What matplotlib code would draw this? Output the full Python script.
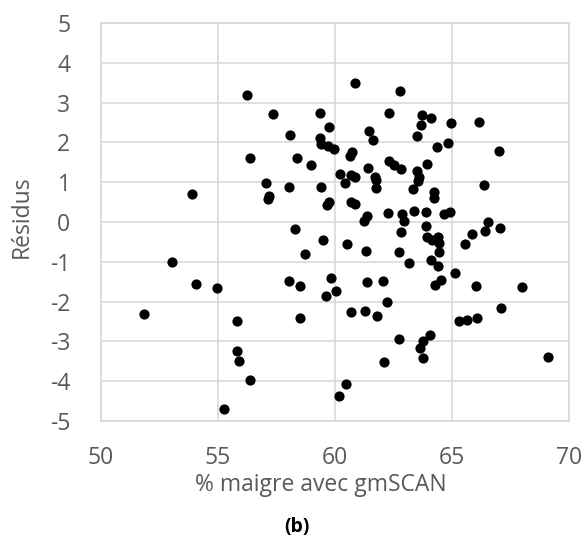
import numpy as np
import matplotlib
matplotlib.use("Agg")
import matplotlib.pyplot as plt

plt.rcParams['font.family'] = ['Open Sans', 'DejaVu Sans']
plt.rcParams['axes.unicode_minus'] = False

# % maigre avec gmSCAN (x) et résidus (y)
x_vals = [51.83, 53.05, 53.90, 54.04, 54.96, 55.25, 55.80, 55.80, 55.90, 56.22,
          56.38, 56.38, 57.05, 57.19, 57.12, 57.35, 58.08, 58.05, 58.38, 58.28,
          58.04, 58.49, 58.50, 58.71, 58.97, 59.34, 59.73, 59.38, 59.40, 59.68,
          59.97, 59.42, 59.64, 59.75, 59.49, 59.81, 60.05, 59.62, 60.20, 60.41,
          60.68, 60.85, 60.64, 60.72, 60.70, 60.84, 60.53, 60.69, 60.49, 60.19,
          60.86, 61.45, 61.63, 61.42, 61.71, 61.75, 61.75, 61.38, 61.25, 61.33,
          61.36, 61.28, 61.80, 62.31, 62.76, 62.30, 62.50, 62.82, 62.28, 62.85,
          62.96, 62.80, 62.73, 62.07, 62.22, 62.73, 62.11, 63.18, 63.36, 63.49,
          63.57, 63.54, 63.33, 63.52, 63.66, 63.71, 64.09, 63.94, 63.88, 63.88,
          63.93, 64.15, 64.41, 64.44, 64.46, 64.10, 64.39, 64.28, 64.54, 64.08,
          63.78, 63.64, 63.78, 64.23, 64.22, 64.64, 64.92, 64.38, 64.84, 64.94,
          65.12, 65.30, 65.66, 66.06, 65.56, 65.87, 66.43, 66.53, 67.07, 66.38,
          66.14, 67.00, 66.02, 68.01, 67.11, 69.11]
y_vals = [-2.30, -1.01, 0.71, -1.55, -1.67, -4.69, -2.49, -3.25, -3.50, 3.18,
          1.60, -3.96, 0.97, 0.65, 0.58, 2.72, 2.19, 0.88, 1.62, -0.18,
          -1.47, -1.60, -2.40, -0.80, 1.44, 2.74, 2.38, 2.10, 1.97, 1.90,
          1.83, 0.89, 0.43, 0.49, -0.44, -1.40, -1.74, -1.87, 1.20, 0.97,
          1.17, 1.13, 1.65, 1.76, 0.51, 0.45, -0.55, -2.25, -4.08, -4.38,
          3.50, 2.28, 2.07, 1.36, 1.14, 1.05, 0.86, 0.15, 0.02, -0.74,
          -1.51, -2.23, -2.36, 2.74, 3.30, 1.54, 1.44, 1.34, 0.23, 0.19,
          0.03, -0.25, -0.76, -1.49, -2.00, -2.93, -3.51, -1.02, 0.28, 1.28,
          1.13, 1.02, 0.83, 2.17, 2.44, 2.68, 2.62, 1.46, 0.24, -0.10,
          -0.37, -0.44, -0.38, -0.52, -0.76, -0.96, -1.11, -1.58, -1.45, -2.84,
          -2.99, -3.17, -3.42, 0.75, 0.61, 0.21, 0.26, 1.88, 1.99, 2.48,
          -1.28, -2.49, -2.45, -2.40, -0.56, -0.30, -0.22, 0.01, -0.16, 0.92,
          2.52, 1.79, -1.61, -1.64, -2.16, -3.40]

x_ticks = [50, 55, 60, 65, 70]
y_ticks = [-5, -4, -3, -2, -1, 0, 1, 2, 3, 4, 5]

grey = '#595959'
grid_col = '#d9d9d9'

fig = plt.figure(figsize=(5.83, 5.38), dpi=100)
ax = fig.add_axes([101 / 583, 1 - 421 / 538, 468 / 583, 398 / 538])

ax.scatter(x_vals, y_vals, s=54, color='black', zorder=3, linewidths=0)

ax.set_xlim(50, 70)
ax.set_ylim(-5, 5)
ax.set_xticks(x_ticks)
ax.set_yticks(y_ticks)
ax.grid(True, color=grid_col, linewidth=1.2, zorder=0)
for sp in ax.spines.values():
    sp.set_color(grid_col)
    sp.set_linewidth(1.2)
ax.tick_params(length=0, labelsize=16.5, labelcolor=grey, pad=18)
ax.tick_params(axis='y', pad=22)

fig.text(321 / 583, 1 - 485 / 538, '% maigre avec gmSCAN', ha='center', va='center',
         fontsize=16.5, color=grey)
fig.text(22 / 583, 1 - 217 / 538, 'Résidus', ha='center', va='center',
         rotation=90, fontsize=16.5, color=grey)
fig.text(297 / 583, 1 - 527 / 538, '(b)', ha='center', va='center',
         fontsize=14, fontweight='bold', color='black')

fig.savefig('out.png', dpi=100)
